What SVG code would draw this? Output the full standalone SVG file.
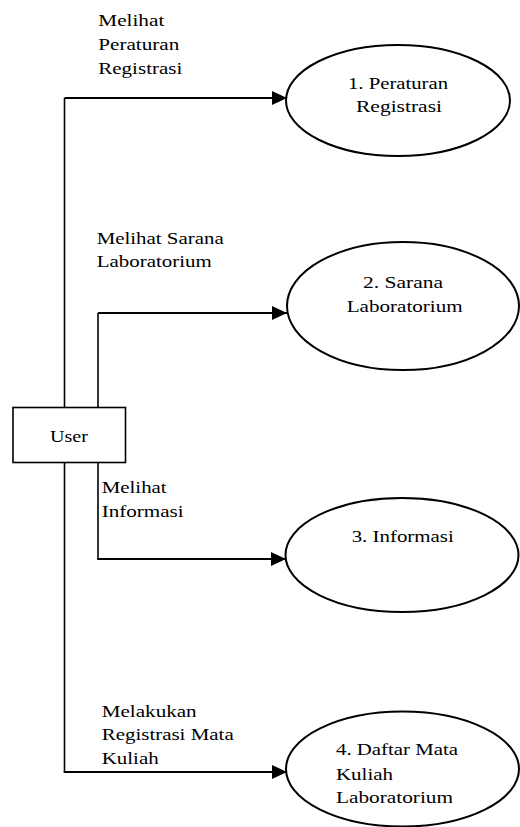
<svg xmlns="http://www.w3.org/2000/svg" width="520" height="827" viewBox="0 0 520 827">
  <style>
    .bg { fill: #ffffff; }
    .node { fill: #ffffff; stroke: #000000; stroke-width: 2; }
    .box { fill: #ffffff; stroke: #000000; stroke-width: 1.6; }
    .txt { font-family: "Liberation Serif", "Times New Roman", Times, "DejaVu Serif", "Noto Serif", serif; font-size: 17px; fill: #000000; }
    .vline { fill: none; stroke: #000000; stroke-width: 1.6; }
    .flow { fill: none; stroke: #000000; stroke-width: 2.2; marker-end: url(#arrow); }
  </style>
  <defs>
    <marker id="arrow" markerUnits="userSpaceOnUse" markerWidth="16" markerHeight="14" refX="15" refY="7" orient="auto">
      <path d="M0,0 L15,7 L0,14 Z" fill="#000000"/>
    </marker>
  </defs>

  <rect class="bg" x="0" y="0" width="520" height="827"/>

  <!-- connectors -->
  <g id="connectors">
    <!-- flow 1: user to Peraturan Registrasi -->
    <path class="vline" d="M64.5,98 V407.5"/>
    <path class="flow" d="M64.5,98 H287"/>
    <!-- flow 2: user to Sarana Laboratorium -->
    <path class="vline" d="M98,313 V407.5"/>
    <path class="flow" d="M98,313 H287"/>
    <!-- flow 3: user to Informasi -->
    <path class="vline" d="M98,462.5 V559"/>
    <path class="flow" d="M97.2,559 H286"/>
    <!-- flow 4: user to Daftar Mata Kuliah Laboratorium -->
    <path class="vline" d="M64.5,462.5 V772"/>
    <path class="flow" d="M63.7,772 H287"/>
  </g>

  <!-- connector labels -->
  <g id="labels">
    <text class="txt" x="98.3" y="26" textLength="66" lengthAdjust="spacingAndGlyphs">Melihat</text>
    <text class="txt" x="98.3" y="50" textLength="81" lengthAdjust="spacingAndGlyphs">Peraturan</text>
    <text class="txt" x="98.3" y="74" textLength="84" lengthAdjust="spacingAndGlyphs">Registrasi</text>

    <text class="txt" x="96.7" y="244" textLength="127" lengthAdjust="spacingAndGlyphs">Melihat Sarana</text>
    <text class="txt" x="96.7" y="267" textLength="115" lengthAdjust="spacingAndGlyphs">Laboratorium</text>

    <text class="txt" x="101.7" y="493" textLength="65" lengthAdjust="spacingAndGlyphs">Melihat</text>
    <text class="txt" x="101.7" y="517" textLength="82" lengthAdjust="spacingAndGlyphs">Informasi</text>

    <text class="txt" x="101.7" y="717" textLength="95" lengthAdjust="spacingAndGlyphs">Melakukan</text>
    <text class="txt" x="101.7" y="740" textLength="132" lengthAdjust="spacingAndGlyphs">Registrasi Mata</text>
    <text class="txt" x="101.7" y="763.5" textLength="57" lengthAdjust="spacingAndGlyphs">Kuliah</text>
  </g>

  <!-- external entity -->
  <g id="user">
    <rect class="box" x="13" y="407.5" width="112.5" height="55"/>
    <text class="txt" x="50" y="441.7" textLength="38" lengthAdjust="spacingAndGlyphs">User</text>
  </g>

  <!-- processes -->
  <g id="p1">
    <ellipse class="node" cx="398" cy="100.5" rx="112" ry="55.5"/>
    <text class="txt" x="348" y="89" textLength="100" lengthAdjust="spacingAndGlyphs">1. Peraturan</text>
    <text class="txt" x="356" y="112" textLength="86" lengthAdjust="spacingAndGlyphs">Registrasi</text>
  </g>

  <g id="p2">
    <ellipse class="node" cx="403" cy="306" rx="116" ry="64"/>
    <text class="txt" x="363" y="288" textLength="80" lengthAdjust="spacingAndGlyphs">2. Sarana</text>
    <text class="txt" x="346.7" y="311.7" textLength="116" lengthAdjust="spacingAndGlyphs">Laboratorium</text>
  </g>

  <g id="p3">
    <ellipse class="node" cx="402" cy="555" rx="116.5" ry="57"/>
    <text class="txt" x="351.7" y="541.7" textLength="102" lengthAdjust="spacingAndGlyphs">3. Informasi</text>
  </g>

  <g id="p4">
    <ellipse class="node" cx="402.5" cy="769" rx="116.5" ry="57.5"/>
    <text class="txt" x="336" y="755" textLength="122" lengthAdjust="spacingAndGlyphs">4. Daftar Mata</text>
    <text class="txt" x="336" y="780" textLength="57" lengthAdjust="spacingAndGlyphs">Kuliah</text>
    <text class="txt" x="336" y="803.3" textLength="117" lengthAdjust="spacingAndGlyphs">Laboratorium</text>
  </g>
</svg>
